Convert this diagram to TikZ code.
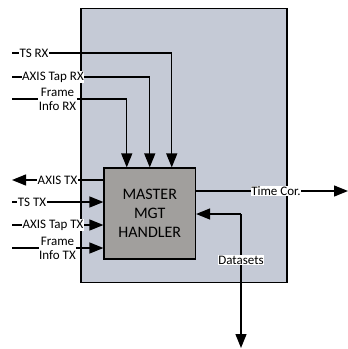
\documentclass[tikz,border=0pt]{standalone}
\usepackage{fontspec}
\setmainfont{Carlito}
\usetikzlibrary{arrows.meta,positioning}
\definecolor{BlockBlue}{RGB}{197,202,214}
\definecolor{HandlerGray}{RGB}{161,159,157}

\begin{document}
\begin{tikzpicture}[x=1pt, y=-1pt,
	sig/.style={line width=1.3pt},
	arr/.style={sig, -{Triangle[length=14pt,width=11pt]}},
	lbl/.style={fill=white, inner sep=0.6pt, font=\fontsize{13}{14}\selectfont},
	lbltwo/.style={lbl, align=center},
	block/.style={draw, line width=1.2pt, inner sep=0pt}]
	\useasboundingbox (0,0) rectangle (348,349);
	% outer block and handler
	\node[block, fill=BlockBlue, minimum width=206pt, minimum height=274pt] (fpga) at (184,145.5) {};
	\node[block, fill=HandlerGray, minimum width=91.5pt, minimum height=91pt, align=center,
		font=\fontsize{16}{19}\selectfont] (mgt) at (149.75,213.5) {MASTER\\MGT\\HANDLER};
	% receive side
	\coordinate (tsrx-in) at (12,53);
	\coordinate (taprx-in) at (12,77);
	\coordinate (frmrx-in) at (12,99);
	\coordinate (mgt-n1) at ([xshift=-23pt]mgt.north);
	\coordinate (mgt-n2) at (mgt.north);
	\coordinate (mgt-n3) at ([xshift=22pt]mgt.north);
	\draw[arr] (tsrx-in) -| (mgt-n3);
	\draw[arr] (taprx-in) -| (mgt-n2);
	\draw[arr] (frmrx-in) -| (mgt-n1);
	\node[lbl] (tsrx) at (34,53) {TS RX};
	\node[lbl] (taprx) at (53,77) {AXIS Tap RX};
	\node[lbltwo] (frmrx) at (57.5,99) {Frame\\Info RX};
	% transmit side
	\coordinate (axistx-out) at (12,180);
	\coordinate (tstx-in) at (12,202);
	\coordinate (taptx-in) at (12,225);
	\coordinate (frmtx-in) at (12,248);
	\draw[arr] (mgt.west |- axistx-out) -- (axistx-out);
	\draw[arr] (tstx-in) -- (mgt.west |- tstx-in);
	\draw[arr] (taptx-in) -- (mgt.west |- taptx-in);
	\draw[arr] (frmtx-in) -- (mgt.west |- frmtx-in);
	\node[lbl] (axistx) at (57.5,180) {AXIS TX};
	\node[lbl] (tstx) at (32,202) {TS TX};
	\node[lbl] (taptx) at (53,225) {AXIS Tap TX};
	\node[lbltwo] (frmtx) at (57.5,248) {Frame\\Info TX};
	% outputs on the right
	\coordinate (timecor-out) at (348,191);
	\coordinate (ds-bend) at (241,214);
	\coordinate (ds-out) at (241,348);
	\draw[arr] (mgt.east |- timecor-out) -- (timecor-out);
	\draw[arr] (ds-bend) -- (mgt.east |- ds-bend);
	\draw[arr] (ds-bend) -- (ds-out);
	\node[lbl] (timecor) at (276,191) {Time Cor.};
	\node[lbl] (datasets) at (241,260) {Datasets};
\end{tikzpicture}
\end{document}
